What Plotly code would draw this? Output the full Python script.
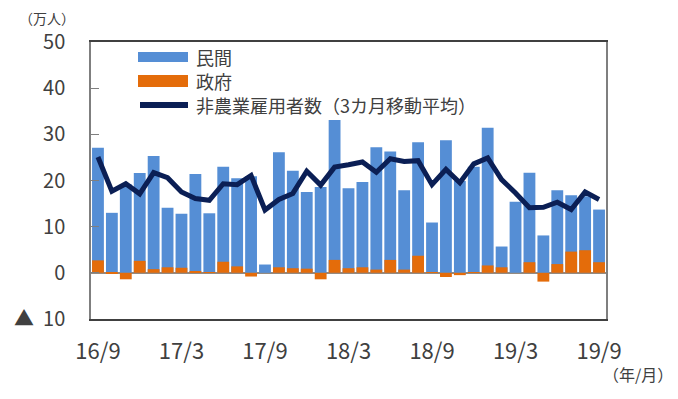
import plotly.graph_objects as go

# ---- data ----
months = []
y, m = 2016, 9
for _ in range(37):
    months.append(f"{y % 100}/{m}")
    m += 1
    if m > 12:
        m = 1
        y += 1

private = [27.1, 13.0, 19.2, 21.6, 25.3, 14.1, 12.8, 21.4, 12.9, 23.0,
           20.5, 20.9, 1.8, 26.1, 22.1, 17.5, 18.6, 33.1, 18.3, 19.7,
           27.2, 26.3, 17.9, 28.3, 10.9, 28.7, 19.9, 23.0, 31.4, 5.7,
           15.4, 21.7, 8.1, 17.9, 16.8, 16.6, 13.7]
government = [2.7, -0.2, -1.4, 2.6, 0.8, 1.2, 1.1, 0.2, 0.1, 2.4,
              1.4, -0.8, 0.0, 1.2, 1.0, 0.9, -1.4, 2.8, 1.0, 1.2,
              0.7, 2.8, 0.7, 3.7, 0.1, -0.9, -0.5, 0.1, 1.6, 1.2,
              0.0, 2.3, -1.9, 1.9, 4.6, 4.9, 2.3]
moving_avg = [25.1, 17.7, 19.3, 17.1, 21.7, 20.6, 17.5, 16.1, 15.7, 19.3,
              19.1, 21.1, 13.6, 15.9, 17.2, 22.0, 19.0, 22.9, 23.4, 24.0,
              21.8, 24.7, 24.1, 24.3, 19.1, 22.4, 19.5, 23.6, 24.9, 20.2,
              17.3, 14.1, 14.2, 15.3, 13.7, 17.5, 15.9]

x_ticks = ["16/9", "17/3", "17/9", "18/3", "18/9", "19/3", "19/9"]
y_tickvals = [-10, 0, 10, 20, 30, 40, 50]
y_ticktext = ["▲\u00a0\u00a010", "0", "10", "20", "30", "40", "50"]
series_names = ["民間", "政府", "非農業雇用者数（3カ月移動平均）"]

BLUE = "#558ED5"
ORANGE = "#E46C0A"
NAVY = "#0B1F55"
TXT = "#404040"
FONT = "Noto Sans CJK JP"

# page has an 8px body margin: figure sized so the plot lands at the reference pixels
OFF = 8
W, H = 678 - OFF, 399 - OFF
L, R, T, B = 91 - OFF, 72, 42 - OFF, 80
PW, PH = W - L - R, H - T - B


def px(xp):
    # page pixel x -> paper
    return (xp - OFF - L) / PW


def py(yp):
    # page pixel y -> paper
    return (T + PH - (yp - OFF)) / PH


fig = go.Figure()
fig.add_trace(go.Bar(x=months, y=private, name=series_names[0],
                     marker=dict(color=BLUE, line=dict(width=0)), showlegend=False))
fig.add_trace(go.Bar(x=months, y=government, name=series_names[1],
                     marker=dict(color=ORANGE, line=dict(width=0)), showlegend=False))
fig.add_trace(go.Scatter(x=months, y=moving_avg, name=series_names[2], mode="lines",
                         line=dict(color=NAVY, width=5), showlegend=False))

# manual legend
shapes = [
    dict(type="rect", xref="paper", yref="paper", x0=px(138), x1=px(188), y0=py(62), y1=py(52),
         fillcolor=BLUE, line=dict(width=0)),
    dict(type="rect", xref="paper", yref="paper", x0=px(138), x1=px(188), y0=py(87), y1=py(75),
         fillcolor=ORANGE, line=dict(width=0)),
    dict(type="line", xref="paper", yref="paper", x0=px(140), x1=px(188), y0=py(105), y1=py(105),
         line=dict(color=NAVY, width=6)),
]
annotations = []
for name, yy in zip(series_names, [57, 81, 105]):
    annotations.append(dict(text=name, xref="paper", yref="paper", x=px(194), y=py(yy),
                            xanchor="left", yanchor="middle", showarrow=False,
                            font=dict(size=18, color=TXT, family=FONT)))
annotations.append(dict(text="（万人）", xref="paper", yref="paper", x=px(47), y=py(18),
                        xanchor="center", yanchor="middle", showarrow=False,
                        font=dict(size=14, color=TXT, family=FONT)))
annotations.append(dict(text="（年/月）", xref="paper", yref="paper", x=px(638), y=py(374),
                        xanchor="center", yanchor="middle", showarrow=False,
                        font=dict(size=16, color=TXT, family=FONT)))

fig.update_layout(
    width=W, height=H,
    margin=dict(l=L, r=R, t=T, b=B, autoexpand=False),
    paper_bgcolor="white", plot_bgcolor="white",
    barmode="overlay", bargap=0.15,
    font=dict(family=FONT, color=TXT),
    shapes=shapes, annotations=annotations,
    showlegend=False,
)
fig.update_xaxes(
    type="category", tickvals=x_ticks, ticktext=x_ticks, automargin=False,
    tickfont=dict(size=22, color=TXT, family=FONT),
    showline=True, linecolor="#404040", linewidth=1.5, mirror=True,
    showgrid=False, ticks="", ticklabelstandoff=12,
)
fig.update_yaxes(
    range=[-10, 50], tickvals=y_tickvals, ticktext=y_ticktext, automargin=False,
    tickfont=dict(size=20, color=TXT, family=FONT),
    showline=True, linecolor="#7F7F7F", linewidth=1.5, mirror=True,
    showgrid=False, ticks="inside", ticklen=8, tickcolor="#7F7F7F",
    zeroline=True, zerolinecolor="#948A80", zerolinewidth=1.5,
    ticklabelstandoff=20,
)

fig.write_html("out.html")
